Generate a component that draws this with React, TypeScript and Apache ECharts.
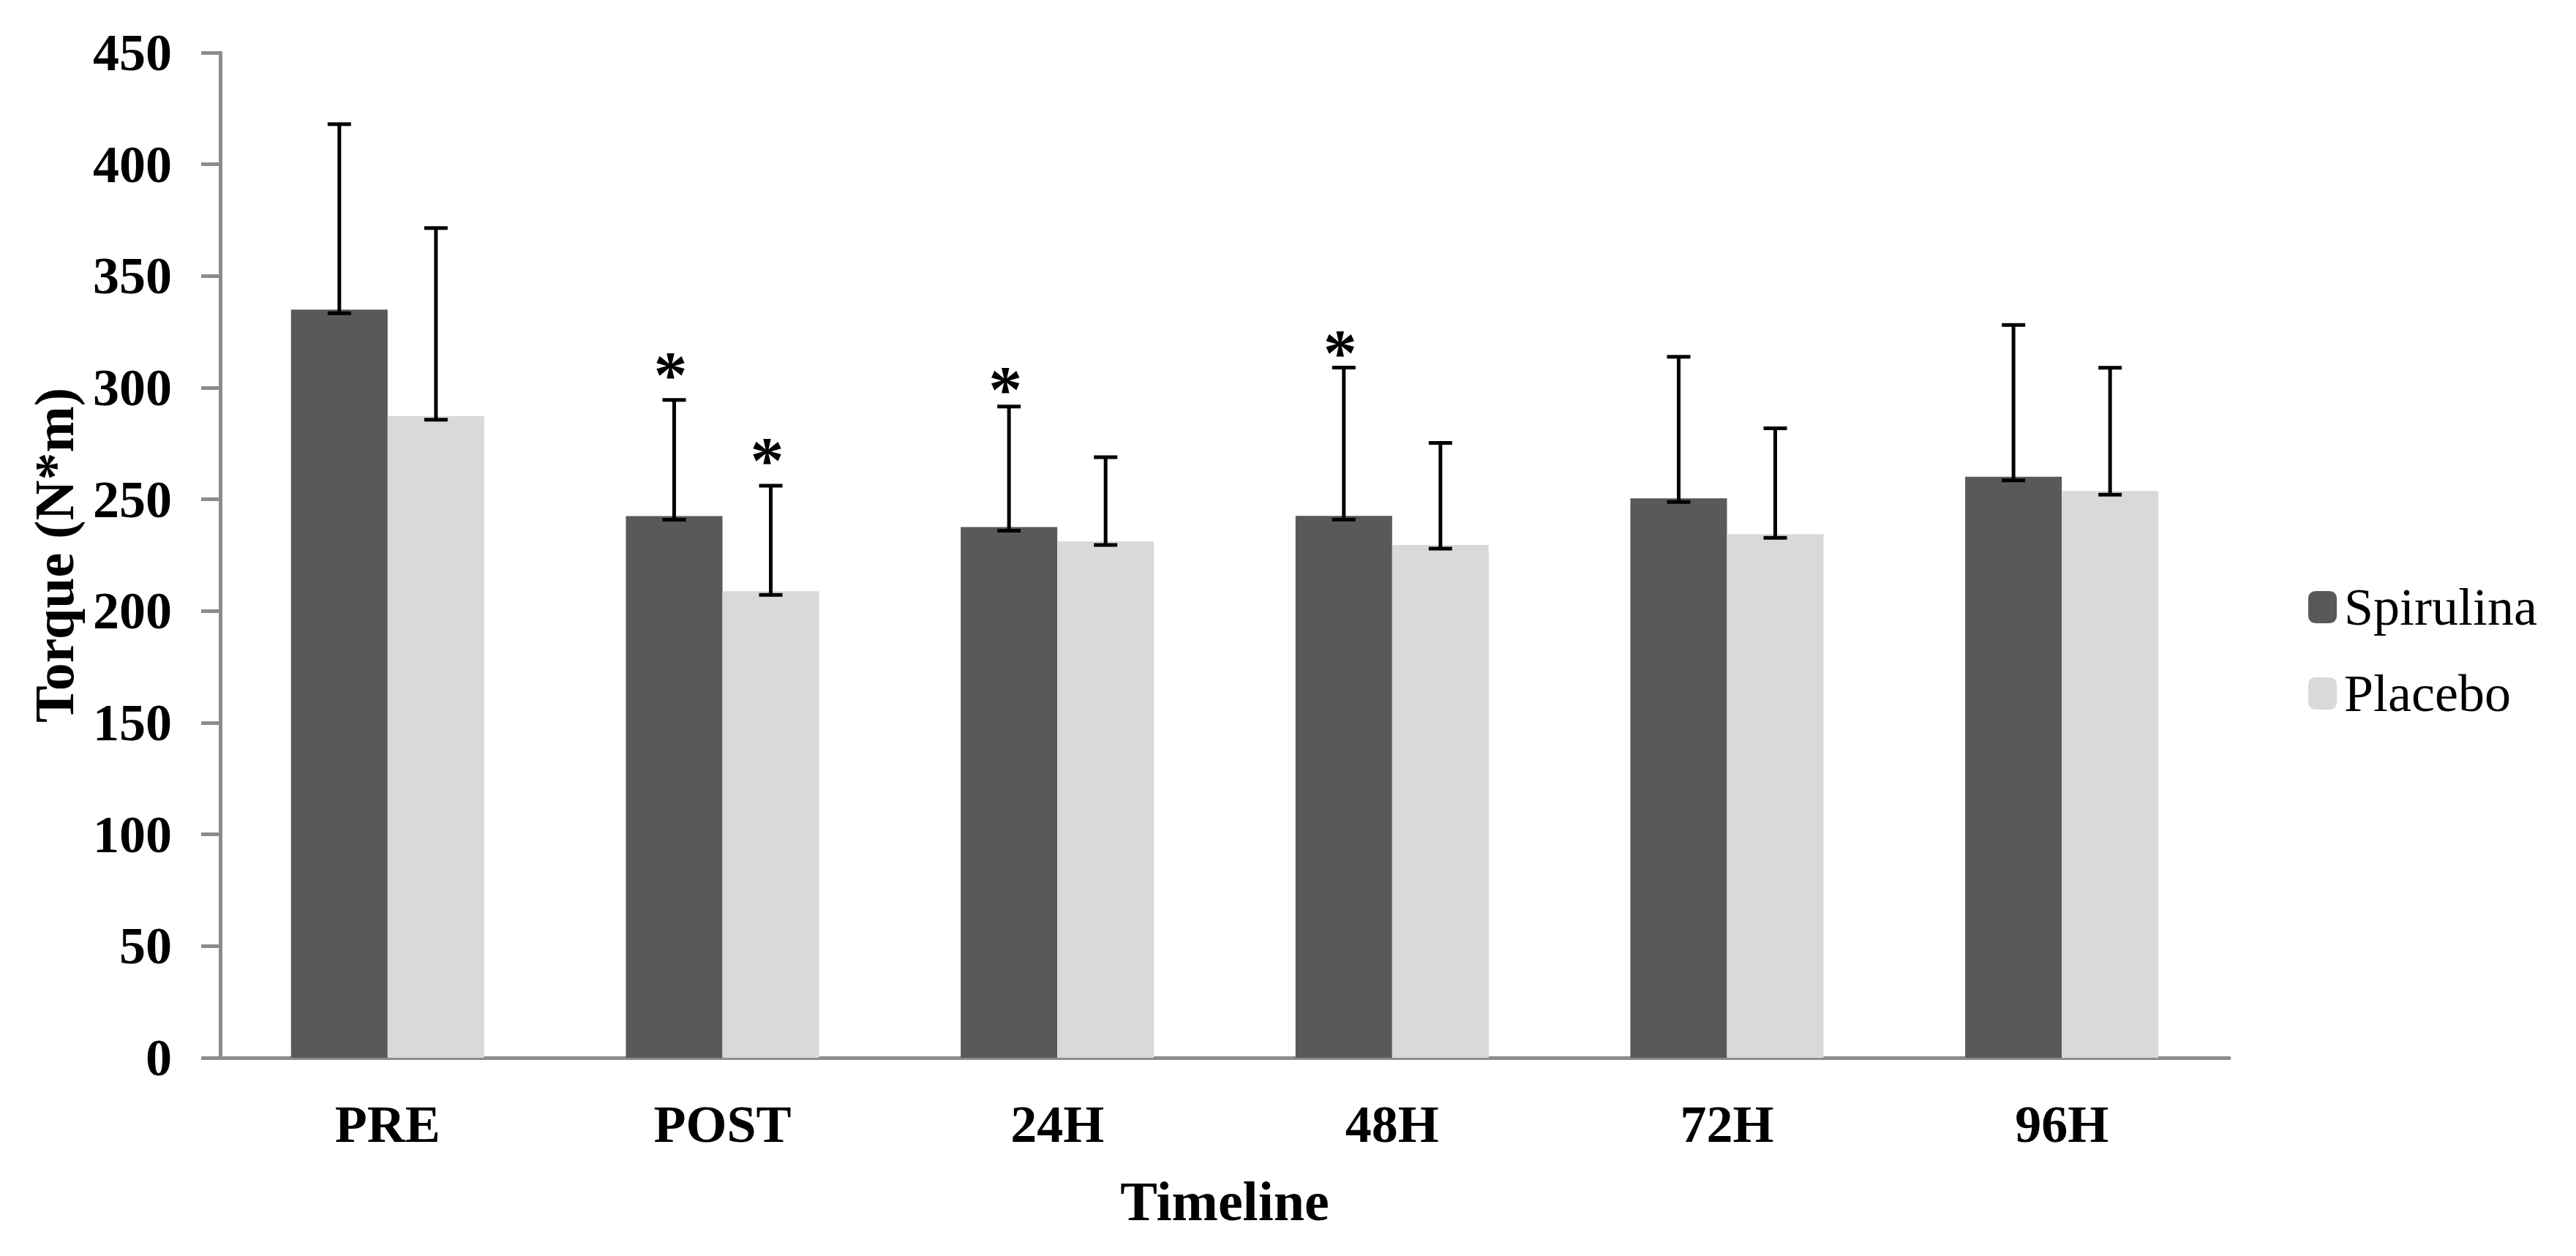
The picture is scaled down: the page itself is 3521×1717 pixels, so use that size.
import React, { useEffect, useRef } from "react";
import * as echarts from "echarts";

const categories = ["PRE", "POST", "24H", "48H", "72H", "96H"];
const spirulinaMean = [335, 242.5, 237.6, 242.6, 250.5, 260.1];
const spirulinaSD = [83, 52, 54, 66.4, 63.3, 68];
const placeboMean = [287.3, 208.9, 231.2, 229.6, 234.4, 253.7];
const placeboSD = [84.2, 47.2, 37.7, 45.7, 47.4, 55.2];
// value level at which a significance asterisk sits (null = none)
const spirulinaStar = [null, 309.8, 303.4, 319.5, null, null];
const placeboStar = [null, 271.4, null, null, null, null];
const yTicks = { min: 0, max: 450, interval: 50 };

const FONT = "'Liberation Serif', 'Times New Roman', serif";
const DARK = "#595959";
const LIGHT = "#d9d9d9";
const AXIS = "#8c8c8c";
const CATEGORY_GAP = 0.423;

function errorSeries(name: string, means: number[], sds: number[], stars: (number | null)[], side: number) {
  const data = means.map((m, i) => [i, m, m + sds[i], stars[i] == null ? NaN : stars[i]]);
  return {
    type: "custom",
    name: name + " SD",
    data,
    clip: false,
    z: 10,
    encode: { x: 0, y: [1, 2] },
    renderItem: (params: any, api: any) => {
      const idx = api.value(0);
      const mean = api.value(1);
      const upper = api.value(2);
      const star = api.value(3);
      const band = api.size([1, 0])[0];
      const barW = (band * (1 - CATEGORY_GAP)) / 2;
      const pBase = api.coord([idx, mean]);
      const pTop = api.coord([idx, upper]);
      const x = pBase[0] + side * barW / 2;
      const yb = pBase[1] + 5;
      const yt = pTop[1];
      const half = 16;
      const st = { stroke: "#000", lineWidth: 5 };
      const children: any[] = [
        { type: "line", shape: { x1: x, y1: yb, x2: x, y2: yt }, style: st },
        { type: "line", shape: { x1: x - half, y1: yt, x2: x + half, y2: yt }, style: st },
        { type: "line", shape: { x1: x - half, y1: yb, x2: x + half, y2: yb }, style: st },
      ];
      if (!isNaN(star)) {
        const ps = api.coord([idx, star]);
        children.push({
          type: "text",
          style: {
            text: "*",
            x: x - 5,
            y: ps[1] + 12,
            align: "center",
            verticalAlign: "middle",
            fontSize: 92,
            fontWeight: "bold",
            fontFamily: FONT,
            fill: "#000",
          },
        });
      }
      return { type: "group", children };
    },
  };
}

export default function App() {
  const ref = useRef<HTMLDivElement>(null);
  useEffect(() => {
    if (!ref.current) return;
    const chart = echarts.init(ref.current, null, { renderer: "svg" });
    chart.setOption({
      animation: false,
      backgroundColor: "#ffffff",
      grid: { left: 301, right: 474, top: 72, bottom: 271, containLabel: false },
      legend: {
        orient: "vertical",
        left: 3150,
        top: 789,
        itemWidth: 39,
        itemHeight: 44,
        itemGap: 46,
        data: ["Spirulina", "Placebo"],
        textStyle: { fontFamily: FONT, fontSize: 72, color: "#000", padding: [0, 0, 0, 5] },
      },
      xAxis: {
        type: "category",
        data: categories,
        name: "Timeline",
        nameLocation: "middle",
        nameGap: 158,
        nameTextStyle: { fontFamily: FONT, fontSize: 76, fontWeight: "bold", color: "#000" },
        axisLine: { show: true, lineStyle: { color: AXIS, width: 5 } },
        axisTick: { show: false },
        axisLabel: { fontFamily: FONT, fontSize: 72, fontWeight: "bold", color: "#000", margin: 55 },
        splitLine: { show: false },
      },
      yAxis: {
        type: "value",
        min: yTicks.min,
        max: yTicks.max,
        interval: yTicks.interval,
        name: "Torque (N*m)",
        nameLocation: "middle",
        nameGap: 189,
        nameRotate: 90,
        nameTextStyle: { fontFamily: FONT, fontSize: 76, fontWeight: "bold", color: "#000" },
        axisLine: { show: true, lineStyle: { color: AXIS, width: 5 } },
        axisTick: { show: true, length: 26, inside: false, lineStyle: { color: AXIS, width: 5 } },
        axisLabel: { fontFamily: FONT, fontSize: 72, fontWeight: "bold", color: "#000", margin: 66 },
        splitLine: { show: false },
      },
      series: [
        {
          name: "Spirulina",
          type: "bar",
          data: spirulinaMean,
          itemStyle: { color: DARK },
          barGap: "0%",
          barCategoryGap: (CATEGORY_GAP * 100) + "%",
        },
        {
          name: "Placebo",
          type: "bar",
          data: placeboMean,
          itemStyle: { color: LIGHT },
          barGap: "0%",
          barCategoryGap: (CATEGORY_GAP * 100) + "%",
        },
        errorSeries("Spirulina", spirulinaMean, spirulinaSD, spirulinaStar, -1),
        errorSeries("Placebo", placeboMean, placeboSD, placeboStar, 1),
      ],
    });
    return () => chart.dispose();
  }, []);
  return (
    <div
      ref={ref}
      style={{ position: "fixed", left: 0, top: 0, width: 3521, height: 1717, background: "#fff" }}
    />
  );
}
